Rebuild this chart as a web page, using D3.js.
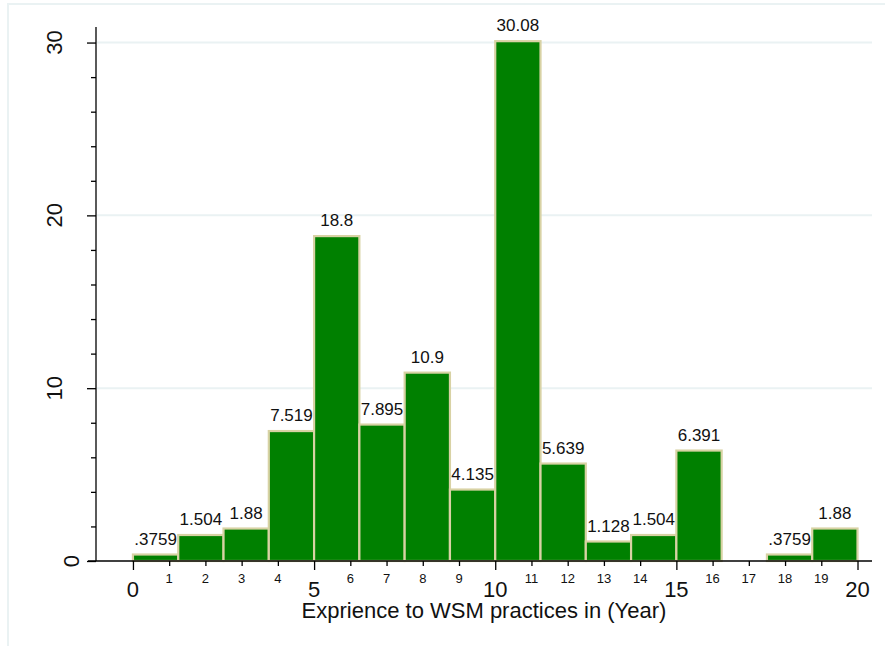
<!DOCTYPE html>
<html>
<head>
<meta charset="utf-8">
<script src="https://cdn.jsdelivr.net/npm/d3@7"></script>
<style>
  body { margin: 0; background: #fff; }
  svg { display: block; font-family: "Liberation Sans", Arial, sans-serif; }
</style>
</head>
<body>
<svg id="chart" width="885" height="646"></svg>
<script>
// histogram bins (years), bin width 1.25
const binStarts = [0, 1.25, 2.5, 3.75, 5, 6.25, 7.5, 8.75, 10, 11.25, 12.5, 13.75, 15, 16.25, 17.5, 18.75];
const binEnds   = [1.25, 2.5, 3.75, 5, 6.25, 7.5, 8.75, 10, 11.25, 12.5, 13.75, 15, 16.25, 17.5, 18.75, 20];
const percents  = [0.3759, 1.504, 1.88, 7.519, 18.8, 7.895, 10.9, 4.135, 30.08, 5.639, 1.128, 1.504, 6.391, 0, 0.3759, 1.88];
const barLabels = [".3759", "1.504", "1.88", "7.519", "18.8", "7.895", "10.9", "4.135", "30.08", "5.639", "1.128", "1.504", "6.391", "", ".3759", "1.88"];

const xMajorTicks = [0, 5, 10, 15, 20];
const xMinorTicks = [1, 2, 3, 4, 6, 7, 8, 9, 11, 12, 13, 14, 16, 17, 18, 19];
const yMajorTicks = [0, 10, 20, 30];
const yMinorTicks = [2, 4, 6, 8, 12, 14, 16, 18, 22, 24, 26, 28];
const xTitle = "Exprience to WSM practices in (Year)";

const svg = d3.select("#chart");
const gridColor = "#eaf2f3";

// outer graph frame
svg.append("rect")
    .attr("x", 8).attr("y", 4)
    .attr("width", 900).attr("height", 700)
    .attr("fill", "none")
    .attr("stroke", gridColor)
    .attr("stroke-width", 2);

const x = d3.scaleLinear().domain([-1.02, 20.4]).range([96, 872]);
const y = d3.scaleLinear().domain([0, 30.9]).range([561, 27]);

// gridlines
svg.append("g")
    .selectAll("line")
    .data(yMajorTicks.filter(d => d > 0))
    .enter()
    .append("line")
    .attr("x1", 97).attr("x2", 872)
    .attr("y1", d => y(d)).attr("y2", d => y(d))
    .attr("stroke", gridColor)
    .attr("stroke-width", 2);

// bars
svg.append("g")
    .selectAll("rect")
    .data(percents.map((v, i) => ({ v, x0: binStarts[i], x1: binEnds[i] })).filter(d => d.v > 0))
    .enter()
    .append("rect")
    .attr("x", d => x(d.x0))
    .attr("y", d => y(d.v))
    .attr("width", d => x(d.x1) - x(d.x0))
    .attr("height", d => y(0) - y(d.v))
    .attr("fill", "#008000")
    .attr("stroke", "#d8d2a4")
    .attr("stroke-width", 2.2);

// bar labels
svg.append("g")
    .selectAll("text")
    .data(percents.map((v, i) => ({ v, mid: (binStarts[i] + binEnds[i]) / 2, label: barLabels[i] })).filter(d => d.label))
    .enter()
    .append("text")
    .attr("x", d => x(d.mid))
    .attr("y", d => y(d.v) - 10)
    .attr("text-anchor", "middle")
    .attr("font-size", 17)
    .attr("fill", "#111")
    .text(d => d.label);

// y axis
const yAxisG = svg.append("g").attr("transform", "translate(96,0)");
yAxisG.call(d3.axisLeft(y).tickValues(yMajorTicks).tickSize(9).tickFormat(""));
yAxisG.append("g").call(d3.axisLeft(y).tickValues(yMinorTicks).tickSize(5).tickFormat(""))
    .select(".domain").remove();
yAxisG.selectAll("path, line").attr("stroke", "#000").attr("stroke-width", 1.3);
yAxisG.select(".domain").attr("d", `M0,${y(0)}V27`);

svg.append("g")
    .selectAll("text")
    .data(yMajorTicks)
    .enter()
    .append("text")
    .attr("transform", d => `translate(${96 - 17 * String(d).length},${y(d)}) rotate(-90)`)
    .attr("text-anchor", "middle")
    .attr("font-size", 22)
    .attr("fill", "#111")
    .text(d => d);

// x axis
const xAxisG = svg.append("g").attr("transform", `translate(0,${y(0)})`);
xAxisG.call(d3.axisBottom(x).tickValues(xMajorTicks).tickSize(9).tickFormat(""));
xAxisG.append("g").call(d3.axisBottom(x).tickValues(xMinorTicks).tickSize(5).tickFormat(""))
    .select(".domain").remove();
xAxisG.selectAll("path, line").attr("stroke", "#000").attr("stroke-width", 1.3);
xAxisG.select(".domain").attr("d", "M88,0H872");

svg.append("g")
    .selectAll("text")
    .data(xMajorTicks)
    .enter()
    .append("text")
    .attr("x", d => x(d))
    .attr("y", 597)
    .attr("text-anchor", "middle")
    .attr("font-size", 22)
    .attr("fill", "#111")
    .text(d => d);

svg.append("g")
    .selectAll("text")
    .data(xMinorTicks)
    .enter()
    .append("text")
    .attr("x", d => x(d))
    .attr("y", 583)
    .attr("text-anchor", "middle")
    .attr("font-size", 13)
    .attr("fill", "#111")
    .text(d => d);

svg.append("text")
    .attr("x", 484)
    .attr("y", 618)
    .attr("text-anchor", "middle")
    .attr("font-size", 22)
    .attr("fill", "#111")
    .text(xTitle);
</script>
</body>
</html>
